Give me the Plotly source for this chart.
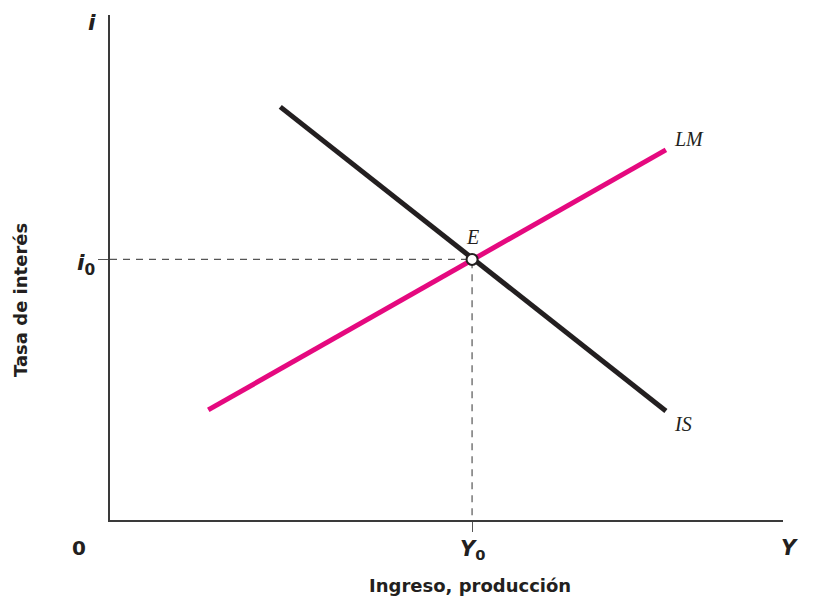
"""IS-LM equilibrium diagram: tasa de interés vs ingreso."""
import plotly.graph_objects as go

# Curve endpoints (axis units 0-10)
is_x = [2.53, 8.26]
is_y = [8.18, 2.16]
lm_x = [1.46, 8.26]
lm_y = [2.18, 7.33]

# Equilibrium point E
eq_x = [5.38]
eq_y = [5.16]

SANS = "'DejaVu Sans', sans-serif"
SERIF = "'Liberation Serif', 'DejaVu Serif', serif"
AXIS_COLOR = "#3a3a3a"

fig = go.Figure()

# Dashed guide lines to the axes
fig.add_trace(go.Scatter(x=[0, eq_x[0], eq_x[0]], y=[eq_y[0], eq_y[0], 0],
                         mode="lines", line=dict(color="#555555", width=1.2, dash="7px,6px"),
                         hoverinfo="skip", showlegend=False))

# IS curve
fig.add_trace(go.Scatter(x=is_x, y=is_y, mode="lines", name="IS",
                         line=dict(color="#231f20", width=5), showlegend=False))

# LM curve
fig.add_trace(go.Scatter(x=lm_x, y=lm_y, mode="lines", name="LM",
                         line=dict(color="#e5097f", width=5), showlegend=False))

# Equilibrium marker
fig.add_trace(go.Scatter(x=eq_x, y=eq_y, mode="markers", name="E",
                         marker=dict(size=11, color="white", line=dict(color="#231f20", width=2)),
                         showlegend=False))

def label(x, y, text, size=20, family=SANS, angle=0):
    # positions given in axis units (0-10), placed on paper so they may sit outside the plot
    fig.add_annotation(x=x / 10, y=y / 10, xref="paper", yref="paper", text=text,
                       xanchor="center", yanchor="middle", showarrow=False, textangle=angle,
                       font=dict(family=family, size=size, color="#231f20"))

label(-0.27, 9.86, "<b><i>i</i></b>", size=22)
label(-0.36, 5.05, "<b><i>i</i><sub>0</sub></b>", size=22)
label(-0.46, -0.55, "<b>0</b>", size=20)
label(eq_x[0], -0.6, "<b><i>Y</i><sub>0</sub></b>", size=21)
label(10.1, -0.55, "<b><i>Y</i></b>", size=21)
label(5.35, -1.29, "<b>Ingreso, producción</b>", size=18)
label(-1.32, 4.36, "<b>Tasa de interés</b>", size=18, angle=-90)
label(8.6, 7.55, "<i>LM</i>", size=20, family=SERIF)
label(8.52, 1.9, "<i>IS</i>", size=20, family=SERIF)
label(eq_x[0], 5.6, "<i>E</i>", size=20, family=SERIF)

fig.update_xaxes(range=[0, 10], showline=True, linecolor=AXIS_COLOR, linewidth=1.5,
                 showgrid=False, zeroline=False, ticks="outside", tickvals=eq_x,
                 ticklen=10, tickwidth=1.2, tickcolor="#555555", showticklabels=False)
fig.update_yaxes(range=[0, 10], showline=True, linecolor=AXIS_COLOR, linewidth=1.5,
                 showgrid=False, zeroline=False, ticks="outside", tickvals=eq_y,
                 ticklen=10, tickwidth=1.2, tickcolor="#555555", showticklabels=False)

# page body adds an 8px margin, so the figure is sized and offset to compensate
fig.update_layout(
    width=805, height=593,
    margin=dict(l=102, r=30, t=7, b=81),
    plot_bgcolor="white", paper_bgcolor="white",
    showlegend=False,
)

fig.write_html("out.html")
